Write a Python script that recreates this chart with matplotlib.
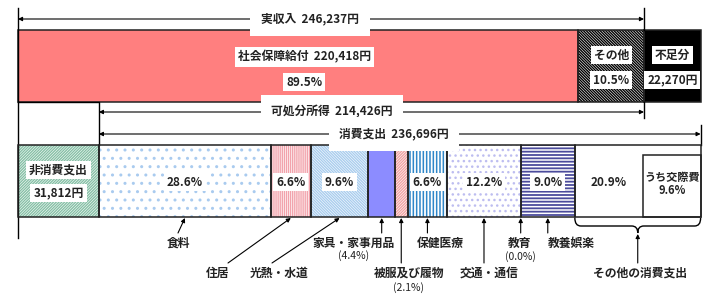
"""Household budget of elderly unemployed households: income vs. spending bars."""

import matplotlib.pyplot as plt
from matplotlib.patches import Rectangle, PathPatch
from matplotlib.path import Path

plt.rcParams['font.family'] = ['Noto Sans CJK JP', 'DejaVu Sans']
plt.rcParams['hatch.linewidth'] = 1.0

# Income side (yen)
income_total = 246237
social_security = 220418
shortfall = 22270
disposable = 214426
non_consumption = 31812
consumption = 236696

# Consumption breakdown (% of consumption)
cons_names = ['食料', '住居', '光熱・水道', '家具・家事用品', '被服及び履物',
              '保健医療', '交通・通信', '教育', '教養娯楽', 'その他の消費支出']
cons_pcts = [28.6, 6.6, 9.6, 4.4, 2.1, 6.6, 12.2, 0.0, 9.0, 20.9]
social_exp_pct = 9.6  # うち交際費

other_income = income_total - social_security
social_pct = social_security / income_total * 100
other_pct = other_income / income_total * 100

# pixel layout helpers (x axis is in yen, y axis in pixels)
W, H = 711, 296
X0, X1 = 18, 644
k = income_total / (X1 - X0)


def px(p):
    return (p - X0) * k


fig = plt.figure(figsize=(W / 100, H / 100), dpi=100)
ax = fig.add_axes([0, 0, 1, 1])
ax.set_xlim(px(0), px(W))
ax.set_ylim(H, 0)
ax.axis('off')

FS = 8.5
WT = 'bold'
box = dict(boxstyle='square,pad=0.25', fc='white', ec='none')


def seg(x, w, y0, y1, fc, hatch=None, hc=None, hlw=1.0):
    with plt.rc_context({'hatch.linewidth': hlw}):
        p = Rectangle((x, y0), w, y1 - y0, facecolor=fc, edgecolor=hc or fc,
                      hatch=hatch, lw=0, zorder=1)
        ax.add_patch(p)
    ax.add_patch(Rectangle((x, y0), w, y1 - y0, fill=False, edgecolor='#222222',
                           lw=1.1, zorder=2))


def label(x, y, s, size=FS, boxed=True, weight=WT):
    ax.text(x, y, s, ha='center', va='center', fontsize=size, zorder=5,
            fontweight=weight, color='#222222', bbox=box if boxed else None)


def span(x0, x1, y, s, tx):
    ax.annotate('', xy=(x0, y), xytext=(x1, y),
                arrowprops=dict(arrowstyle='<|-|>', lw=0.8, color='black',
                                mutation_scale=6, shrinkA=0, shrinkB=0))
    ax.text(tx, y, s, ha='center', va='center', fontsize=FS, zorder=5,
            fontweight=WT, color='#222222',
            bbox=dict(boxstyle='square,pad=0.9', fc='white', ec='none'))


# ---- top bar: income ----
TY0, TY1 = 30, 102
seg(0, social_security, TY0, TY1, '#FF7F7F')
seg(social_security, other_income, TY0, TY1, 'white', '\\' * 12, 'black')
seg(income_total, shortfall, TY0, TY1, 'black')

cx = social_security / 2 + px(24)
label(cx, 57, f'社会保障給付  {social_security:,}円')
label(cx, 82, f'{social_pct:.1f}%')
cx = social_security + other_income / 2
label(cx, 55, 'その他')
label(cx, 80, f'{other_pct:.1f}%')
cx = income_total + shortfall / 2
label(cx, 55, '不足分')
label(cx, 80, f'{shortfall:,}円')

# frame lines
ax.plot([0, 0], [8, 238], color='black', lw=1)
ax.plot([income_total] * 2, [8, TY0], color='black', lw=1)
ax.plot([income_total] * 2, [TY1, 118], color='black', lw=1)
ax.plot([0, non_consumption, non_consumption], [TY1, TY1, 145], color='black', lw=1)
cons_end = non_consumption + consumption
ax.plot([cons_end] * 2, [125, 145], color='black', lw=1)

span(0, income_total, 19, f'実収入  {income_total:,}円', px(310))
span(non_consumption, income_total, 112, f'可処分所得  {disposable:,}円', px(332))
span(non_consumption, cons_end, 134, f'消費支出  {consumption:,}円', px(394))

# ---- bottom bar: spending ----
BY0, BY1 = 145, 217
seg(0, non_consumption, BY0, BY1, 'white', '/' * 12, '#86C0A6')
label(non_consumption / 2, 170, '非消費支出')
label(non_consumption / 2, 193, f'{non_consumption:,}円')

# (face, hatch, hatch colour, hatch width)
styles = [
    ('white', '..', '#A9CBEF', 1.0),
    ('white', '|' * 8, '#F2A3AC', 1.0),
    ('white', '\\' * 12, '#A9CDEE', 1.0),
    ('#8C8CFF', None, None, 1.0),
    ('white', '/' * 12, '#F0A3A3', 1.0),
    ('#2F86C9', '|' * 5, 'white', 1.3),
    ('white', '...', '#BDBDF0', 1.0),
    ('white', None, None, 1.0),
    ('white', '-' * 5, '#4B4B9C', 1.3),
    ('white', None, None, 1.0),
]
inside = {0, 1, 2, 5, 6, 8, 9}

x = non_consumption
lefts, widths = [], []
for pct, (fc, h, hc, hlw) in zip(cons_pcts, styles):
    w = consumption * pct / 100
    lefts.append(x)
    widths.append(w)
    if w > 0:
        seg(x, w, BY0, BY1, fc, h, hc, hlw)
    x += w

for i in inside:
    cx = lefts[i] + widths[i] / 2
    if i == 9:
        cx = lefts[i] + (widths[i] - consumption * social_exp_pct / 100) / 2
    label(cx, 182, f'{cons_pcts[i]:.1f}%')

# うち交際費 box, right aligned in the other-spending segment
sw = consumption * social_exp_pct / 100
ax.add_patch(Rectangle((cons_end - sw, 155), sw, BY1 - 155, fill=False,
                       edgecolor='#222222', lw=1.1, zorder=3))
label(cons_end - sw / 2, 177, 'うち交際費', size=8, boxed=False)
label(cons_end - sw / 2, 191, f'{social_exp_pct:.1f}%', size=8, boxed=False)

# ---- category labels under the bar ----
# (label x px, label y px, arrow start x px, arrow start y px, sub text y px)
under = [
    (178, 243, 178, 233, None),
    (218, 273, 228, 263, None),
    (279, 273, 272, 263, None),
    (354, 243, None, 233, 256),
    (409, 273, None, 263, 288),
    (440, 243, None, 233, None),
    (489, 273, None, 263, None),
    (520, 243, None, 233, 257),
    (571, 243, None, 233, None),
]
for i, (lx, ly, ax_px, ay, sub_y) in enumerate(under):
    tip = lefts[i] + widths[i] / 2
    start = px(ax_px) if ax_px is not None else tip
    ax.annotate('', xy=(tip, BY1 + 1), xytext=(start, ay),
                arrowprops=dict(arrowstyle='-|>', lw=0.8, color='black',
                                mutation_scale=6, shrinkA=0, shrinkB=0))
    label(px(lx), ly, cons_names[i], boxed=False)
    if sub_y is not None:
        label(px(lx), sub_y, f'({cons_pcts[i]:.1f}%)', size=7.5, boxed=False,
              weight='normal')

# brace for the other-spending segment
bx0, bx1 = lefts[9], cons_end
bm = (bx0 + bx1) / 2
d = 6 * k
verts = [(bx0, 218), (bx0, 226), (bx0 + d, 226), (bm - d, 226), (bm, 226), (bm, 233),
         (bm, 226), (bm + d, 226), (bx1 - d, 226), (bx1, 226), (bx1, 218)]
codes = [Path.MOVETO, Path.CURVE3, Path.CURVE3, Path.LINETO, Path.CURVE3, Path.CURVE3,
         Path.CURVE3, Path.CURVE3, Path.LINETO, Path.CURVE3, Path.CURVE3]
ax.add_patch(PathPatch(Path(verts, codes), fill=False, lw=1, edgecolor='black'))
ax.annotate('', xy=(bm, 234), xytext=(bm, 263),
            arrowprops=dict(arrowstyle='-|>', lw=0.8, color='black',
                            mutation_scale=6, shrinkA=0, shrinkB=0))
label(px(640), 273, cons_names[9], boxed=False)

fig.savefig('out.png', dpi=100)
